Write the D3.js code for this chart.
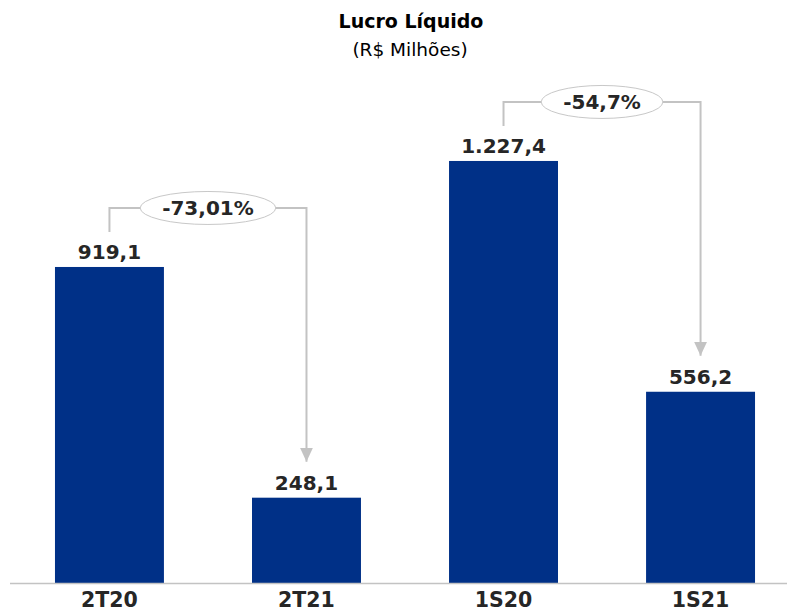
<!DOCTYPE html>
<html>
<head>
<meta charset="utf-8">
<script src="https://cdn.jsdelivr.net/npm/d3@7"></script>
<style>
  html, body { margin: 0; padding: 0; background: #fff; }
  svg { display: block; }
</style>
</head>
<body>
<svg id="chart" width="787" height="612"></svg>
<script>
// Lucro líquido por período (R$ milhões)
const categories = ["2T20", "2T21", "1S20", "1S21"];
const values = [919.1, 248.1, 1227.4, 556.2];
const valueLabels = ["919,1", "248,1", "1.227,4", "556,2"];

// Variações entre períodos comparáveis
const compareFrom = ["2T20", "1S20"];
const compareTo = ["2T21", "1S21"];
const compareLabels = ["-73,01%", "-54,7%"];

const W = 787, H = 612;
const baseY = 583;
const FONT = "'DejaVu Sans', Verdana, sans-serif";
const textColor = "#262626";
const barColor = "#003087";
const lineColor = "#c3c3c3";

const svg = d3.select("#chart");

const x = d3.scaleBand()
  .domain(categories)
  .range([0, 810])
  .paddingInner(0.447)
  .paddingOuter(0.279);

const y = d3.scaleLinear()
  .domain([0, 1300])
  .range([baseY, 136]);

// Título
svg.append("text")
  .attr("x", 411).attr("y", 28)
  .attr("text-anchor", "middle")
  .attr("font-family", FONT).attr("font-weight", "bold")
  .attr("font-size", 19).attr("fill", "#000")
  .text("Lucro Líquido");
svg.append("text")
  .attr("x", 410).attr("y", 56)
  .attr("text-anchor", "middle")
  .attr("font-family", FONT)
  .attr("font-size", 18.5).attr("fill", "#000")
  .text("(R$ Milhões)");

// Barras
svg.append("g").selectAll("rect")
  .data(categories)
  .join("rect")
  .attr("x", d => x(d))
  .attr("width", x.bandwidth())
  .attr("y", (d, i) => y(values[i]))
  .attr("height", (d, i) => y(0) - y(values[i]))
  .attr("fill", barColor);

// Eixo
const axis = svg.append("g")
  .attr("transform", `translate(0,${baseY})`)
  .call(d3.axisBottom(x).tickSize(0).tickPadding(0));
axis.select(".domain").remove();
axis.selectAll("text")
  .attr("dy", 0).attr("y", 24)
  .attr("font-family", FONT).attr("font-weight", "bold")
  .attr("font-size", 20.5).attr("fill", textColor);
svg.append("line")
  .attr("x1", 10).attr("x2", W).attr("y1", baseY + 0.5).attr("y2", baseY + 0.5)
  .attr("stroke", lineColor).attr("stroke-width", 1.5);

// Rótulos de valor
svg.append("g").selectAll("text")
  .data(categories)
  .join("text")
  .attr("x", d => x(d) + x.bandwidth() / 2)
  .attr("y", (d, i) => y(values[i]) - 8)
  .attr("text-anchor", "middle")
  .attr("font-family", FONT).attr("font-weight", "bold")
  .attr("font-size", 20).attr("fill", textColor)
  .text((d, i) => valueLabels[i]);

// Conectores de variação
const defs = svg.append("defs");
defs.append("marker")
  .attr("id", "arrow")
  .attr("viewBox", "0 0 13 14")
  .attr("refX", 6.5).attr("refY", 14)
  .attr("markerWidth", 13).attr("markerHeight", 14)
  .attr("markerUnits", "userSpaceOnUse")
  .attr("orient", "0")
  .append("path")
  .attr("d", "M0,0 L13,0 L6.5,14 Z")
  .attr("fill", lineColor);

const cg = svg.append("g");
compareFrom.forEach((from, k) => {
  const to = compareTo[k];
  const ia = categories.indexOf(from), ib = categories.indexOf(to);
  const xa = x(from) + x.bandwidth() / 2;
  const xb = x(to) + x.bandwidth() / 2;
  const ya = y(values[ia]), yb = y(values[ib]);
  const hy = Math.min(ya, yb) - 59;

  cg.append("path")
    .attr("d", `M${xa},${ya - 35} V${hy} H${xb} V${yb - 36}`)
    .attr("fill", "none")
    .attr("stroke", lineColor).attr("stroke-width", 2)
    .attr("marker-end", "url(#arrow)");

  const cx = (xa + xb) / 2;
  const ell = cg.append("ellipse")
    .attr("cx", cx).attr("cy", hy)
    .attr("ry", 16.5)
    .attr("fill", "#fff")
    .attr("stroke", "#c8c8c8").attr("stroke-width", 1);
  const t = cg.append("text")
    .attr("x", cx).attr("y", hy + 7)
    .attr("text-anchor", "middle")
    .attr("font-family", FONT).attr("font-weight", "bold")
    .attr("font-size", 20).attr("fill", textColor)
    .text(compareLabels[k]);
  const tw = t.node().getComputedTextLength();
  ell.attr("rx", tw / 2 + 22);
});
</script>
</body>
</html>
